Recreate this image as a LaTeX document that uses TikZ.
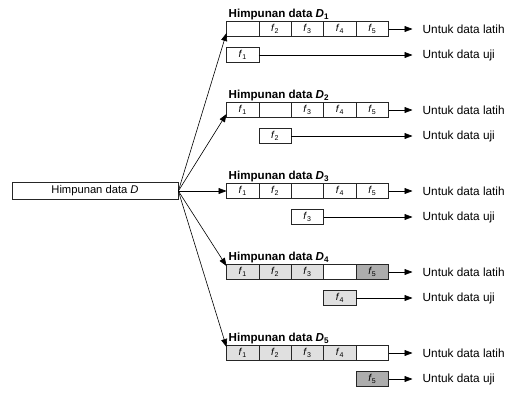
\documentclass[tikz,border=0pt]{standalone}
\usepackage{fontspec}
\setmainfont{Liberation Sans}
\usetikzlibrary{arrows.meta, positioning}

\tikzset{
	cell/.style={
		draw=black!85,
		line width=0.7pt,
		minimum width=32.4pt,
		minimum height=15pt,
		inner sep=0pt,
		outer sep=0pt,
		font=\fontsize{10}{10}\selectfont
	},
	shade 0/.style={fill=white},
	shade 1/.style={fill=black!12},
	shade 2/.style={fill=black!32},
	link/.style={line width=0.6pt, -{Triangle[length=8pt,width=6pt]}},
	note/.style={anchor=west, inner sep=0pt, font=\fontsize{11.8}{12}\selectfont},
}

\begin{document}
\begin{tikzpicture}[x=1pt, y=-1pt]
	\useasboundingbox (0,0) rectangle (506,392);

	% the whole data set
	\node[
		draw=black!85,
		line width=0.7pt,
		minimum width=166pt,
		minimum height=16pt,
		font=\fontsize{11.2}{12}\selectfont
	] (D) at (95,191) {Himpunan data \textit{D}};

	% one fold per row: five cells, the held-out one drops below
	\foreach \k in {1,...,5} {
		\pgfmathsetmacro\rowy{29+81*(\k-1)}
		\foreach \j in {1,...,5} {
			\pgfmathtruncatemacro\shd{(\k==4)*((\j<4)+2*(\j==5))+(\k==5)*(\j<5)}
			\node[cell, shade \shd] (r\k-\j) at ({226.5+32.4*(\j-0.5)},\rowy)
				{\ifnum\j=\k\else\textit{f}\textsubscript{\j}\fi};
		}
		\pgfmathtruncatemacro\tshd{(\k==4)+2*(\k==5)}
		\node[cell, shade \tshd, below=11pt of r\k-\k] (t\k) {\textit{f}\textsubscript{\k}};

		\node[anchor=base west, inner sep=0pt, font=\bfseries\fontsize{11.6}{12}\selectfont]
			(h\k) at ([xshift=2pt,yshift=4pt]r\k-1.north west)
			{Himpunan data \textit{D}\textsubscript{\k}};

		\node[note] (latih\k) at ([xshift=34pt]r\k-5.east) {Untuk data latih};
		\node[note] (uji\k) at (latih\k.west |- t\k) {Untuk data uji};

		\draw[link, shorten >=10pt] (r\k-5.east) -- (latih\k.west);
		\draw[link, shorten >=10pt] (t\k.east) -- (uji\k.west);

		\pgfmathsetmacro\dy{(\k<3)*(-4)+(\k>3)*6}
		\draw[link] (D.east) -- ([yshift=\dy pt]r\k-1.west);
	}
\end{tikzpicture}
\end{document}
